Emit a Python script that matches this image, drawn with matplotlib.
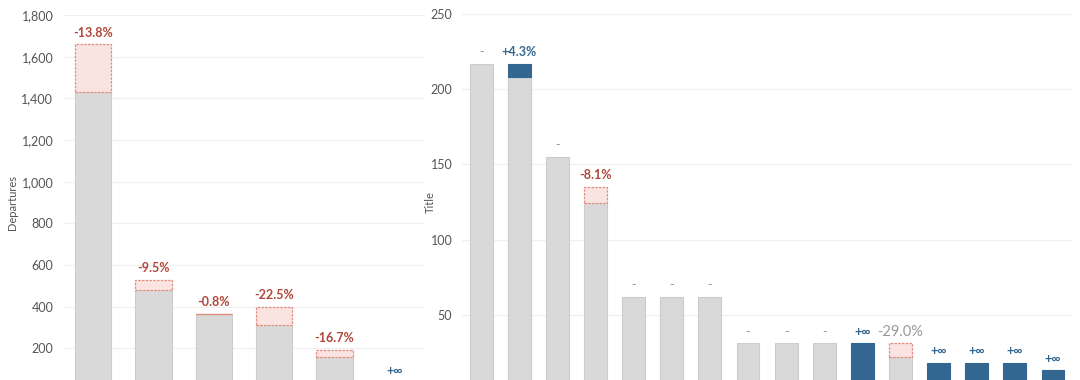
import matplotlib.pyplot as plt

plt.rcParams['font.family'] = ['Lato', 'DejaVu Sans']

# left panel: departures, previous vs current
dep_prev = [1660, 530, 367, 400, 192, 0]
dep_curr = [1431, 479.7, 364, 310, 160, 35]

# right panel
title_prev = [217, 208, 155, 135, 62, 62, 62, 31, 31, 31, 0, 31, 0, 0, 0, 0]
title_curr = [217, 217, 155, 124, 62, 62, 62, 31, 31, 31, 31, 22, 18, 18, 18, 13]
muted_idx = [11]  # label drawn in grey

GREY = '#d9d9d9'
GREY_EDGE = '#cccccc'
BLUE = '#336791'
RED = '#b0473a'
PINK = '#fae4e2'
PINK_EDGE = '#e08c7e'


def draw_panel(ax, prev, curr, ylim, ticks, fmt, ylabel, muted=()):
    x = list(range(len(curr)))
    w = 0.6
    for i in x:
        p, c = prev[i], curr[i]
        if p == 0:
            ax.bar(i, c, width=w, color=BLUE, edgecolor=BLUE, linewidth=0.8)
            txt, col, wt, fs = '+\u221e', BLUE, 'bold', 9
        elif p == c:
            ax.bar(i, c, width=w, color=GREY, edgecolor=GREY_EDGE, linewidth=0.8)
            txt, col, wt, fs = '-', '#999999', 'normal', 9
        elif c > p:
            ax.bar(i, p, width=w, color=GREY, edgecolor=GREY_EDGE, linewidth=0.8)
            ax.bar(i, c - p, bottom=p, width=w, color=BLUE, edgecolor=BLUE, linewidth=0.8)
            pct = (c / p - 1) * 100
            txt, col, wt, fs = '+%.1f%%' % pct, BLUE, 'bold', 9
        else:
            ax.bar(i, c, width=w, color=GREY, edgecolor=GREY_EDGE, linewidth=0.8)
            ax.bar(i, p - c, bottom=c, width=w, color=PINK, edgecolor=PINK_EDGE,
                   linewidth=0.9, linestyle=(0, (2, 1)))
            pct = (c / p - 1) * 100
            txt, col, wt, fs = '%.1f%%' % pct, RED, 'bold', 9
        if i in muted:
            col, wt, fs = '#999999', 'normal', 10.5
        ax.annotate(txt, (i, max(p, c)), xytext=(0, 8.3), textcoords='offset points',
                    ha='center', va='center', color=col, fontweight=wt, fontsize=fs)

    ax.set_xlim(-0.5, len(curr) - 0.5)
    ax.set_ylim(*ylim)
    ax.set_yticks(ticks)
    ax.set_yticklabels([fmt.format(t) for t in ticks])
    ax.set_xticks([])
    ax.tick_params(axis='y', length=0, pad=7, labelsize=9, labelcolor='#555555')
    ax.grid(axis='y', color='#f0f0f0', linewidth=1)
    ax.set_axisbelow(True)
    for s in ax.spines.values():
        s.set_visible(False)
    ax.set_ylabel(ylabel, fontsize=8, color='#555555')


fig = plt.figure(figsize=(10.8, 3.8), dpi=100)
ax1 = fig.add_axes([0.0583, -0.0263, 0.3352, 0.9868])
ax2 = fig.add_axes([0.4278, -0.0263, 0.5648, 0.9895])

draw_panel(ax1, dep_prev, dep_curr, (0, 1800), list(range(200, 1801, 200)), '{:,}', 'Departures')
draw_panel(ax2, title_prev, title_curr, (0, 250), list(range(50, 251, 50)), '{}', 'Title', muted_idx)

ax1.yaxis.set_label_coords(-0.124, 0.5)
ax2.yaxis.set_label_coords(-0.0426, 0.5)

fig.savefig('out.png', dpi=100)
